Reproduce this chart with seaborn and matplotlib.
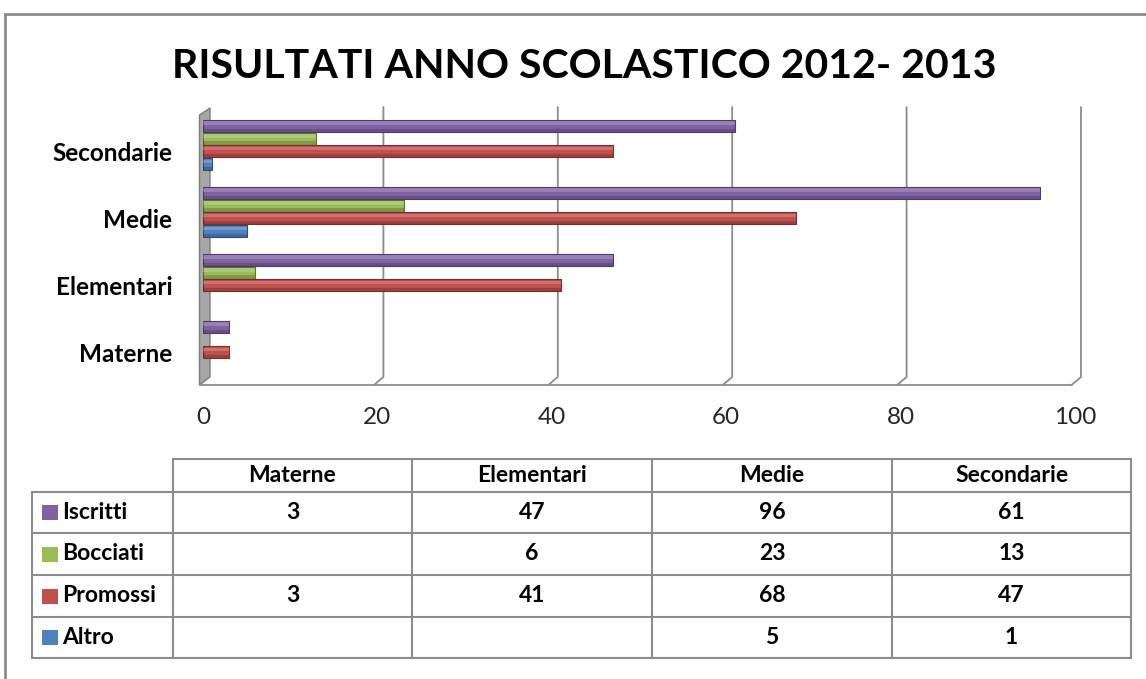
import numpy as np
import pandas as pd
import seaborn as sns
import matplotlib
matplotlib.use('Agg')
import matplotlib.pyplot as plt
from matplotlib.patches import Rectangle, Polygon
from matplotlib.colors import to_rgb

# dati
categories = ['Secondarie', 'Medie', 'Elementari', 'Materne']  # ordine dall'alto
table_cols = ['Materne', 'Elementari', 'Medie', 'Secondarie']
series = ['Iscritti', 'Bocciati', 'Promossi', 'Altro']
iscritti = [3, 47, 96, 61]
bocciati = [np.nan, 6, 23, 13]
promossi = [3, 41, 68, 47]
altro = [np.nan, np.nan, 5, 1]
colors = ['#7F62A3', '#9BBB59', '#C0504D', '#4F81BD']
x_ticks = [0, 20, 40, 60, 80, 100]
title = 'RISULTATI ANNO SCOLASTICO 2012- 2013'

values = {'Iscritti': iscritti, 'Bocciati': bocciati, 'Promossi': promossi, 'Altro': altro}
rows = []
for s in series:
    for c, v in zip(table_cols, values[s]):
        rows.append({'grado': c, 'serie': s, 'valore': v})
df = pd.DataFrame(rows)
df_bars = df.dropna()

sns.set_theme(style='white')
plt.rcParams['font.family'] = ['Lato', 'DejaVu Sans']

W, H = 1146, 679
fig = plt.figure(figsize=(W / 100, H / 100), dpi=100)

# sfondo in pixel per cornice, griglia 3D e tabella
bg = fig.add_axes([0, 0, 1, 1], zorder=0)
bg.set_xlim(0, W)
bg.set_ylim(H, 0)
bg.axis('off')

AX_L, AX_R, AX_T, AX_B = 203, 1075, 111.5, 379.5
SX = (AX_R - AX_L) / 100

ax = fig.add_axes([AX_L / W, 1 - AX_B / H, (AX_R - AX_L) / W, (AX_B - AX_T) / H], zorder=1)
ax.patch.set_alpha(0)

sns.barplot(data=df_bars, y='grado', x='valore', hue='serie', order=categories,
            hue_order=series, palette=colors, width=0.76, gap=0.06, orient='h',
            ax=ax, legend=False, saturation=1)

# effetto cilindro
for p in list(ax.patches):
    w = p.get_width()
    if not w or np.isnan(w):
        continue
    fc = np.array(to_rgb(p.get_facecolor()))
    p.set_edgecolor(fc * 0.6)
    p.set_linewidth(0.8)
    x, y, h = p.get_x(), p.get_y(), p.get_height()
    ax.add_patch(Rectangle((x, y + 0.12 * h), w, 0.3 * h, facecolor='white',
                           alpha=0.2, linewidth=0))
    ax.add_patch(Rectangle((x, y + 0.72 * h), w, 0.28 * h, facecolor='black',
                           alpha=0.18, linewidth=0))

ax.set_xlim(0, 100)
ax.set_ylim(3.5, -0.5)
ax.set_xlabel('')
ax.set_ylabel('')
for sp in ax.spines.values():
    sp.set_visible(False)
ax.set_xticks(x_ticks)
ax.set_xticklabels([str(t) for t in x_ticks], fontsize=17.5, color='#262626')
ax.set_yticks(np.arange(len(categories)) + 0.09)
ax.set_yticklabels(categories, fontsize=17.5, fontweight='bold', color='black')
ax.tick_params(axis='x', length=0, pad=20)
ax.tick_params(axis='y', length=0, pad=22)

# griglia prospettica
gc = '#8C8C8C'
for v in x_ticks[1:]:
    fx = AX_L + v * SX
    bg.plot([fx + 6, fx + 6, fx - 3.5], [107, 377, 385], color=gc, lw=1.3)
bg.plot([AX_L - 3.5, AX_R - 3.5], [385, 385], color=gc, lw=1.3)
bg.add_patch(Polygon([[AX_L - 3.5, 115], [AX_L + 7, 108], [AX_L + 7, 377], [AX_L - 3.5, 385]],
                     closed=True, facecolor='#A6A6A6', edgecolor='#7F7F7F', lw=1))

# cornice
bg.plot([5, W], [14, 14], color='#8C8C8C', lw=2)
bg.plot([5, 5], [14, H], color='#8C8C8C', lw=2)

bg.text(584, 67, title, ha='center', va='center', fontsize=29.5, fontweight='bold',
        color='black')

# tabella dati
tc = '#8C8C8C'
col_x = [32, 173, 412, 652, 892, 1131]
row_y = [459, 492, 533, 575, 617, 658]
bg.plot([col_x[1], col_x[-1]], [row_y[0], row_y[0]], color=tc, lw=1.5)
for yy in row_y[1:]:
    bg.plot([col_x[0], col_x[-1]], [yy, yy], color=tc, lw=1.5)
bg.plot([col_x[0], col_x[0]], [row_y[1], row_y[-1]], color=tc, lw=1.5)
for xx in col_x[1:]:
    bg.plot([xx, xx], [row_y[0], row_y[-1]], color=tc, lw=1.5)

fs = 16.5
for j, c in enumerate(table_cols):
    cx = (col_x[j + 1] + col_x[j + 2]) / 2
    bg.text(cx, (row_y[0] + row_y[1]) / 2, c, ha='center', va='center',
            fontsize=fs, fontweight='bold', color='black')

for i, s in enumerate(series):
    cy = (row_y[i + 1] + row_y[i + 2]) / 2
    bg.add_patch(Rectangle((42, cy - 7.5), 16, 15, facecolor=colors[i], edgecolor='none'))
    bg.text(62, cy, s, ha='left', va='center', fontsize=fs, fontweight='bold', color='black')
    for j, v in enumerate(values[s]):
        if np.isnan(v):
            continue
        cx = (col_x[j + 1] + col_x[j + 2]) / 2
        bg.text(cx, cy, f'{int(v)}', ha='center', va='center',
                fontsize=fs, fontweight='bold', color='black')

plt.savefig('out.png', dpi=100)
